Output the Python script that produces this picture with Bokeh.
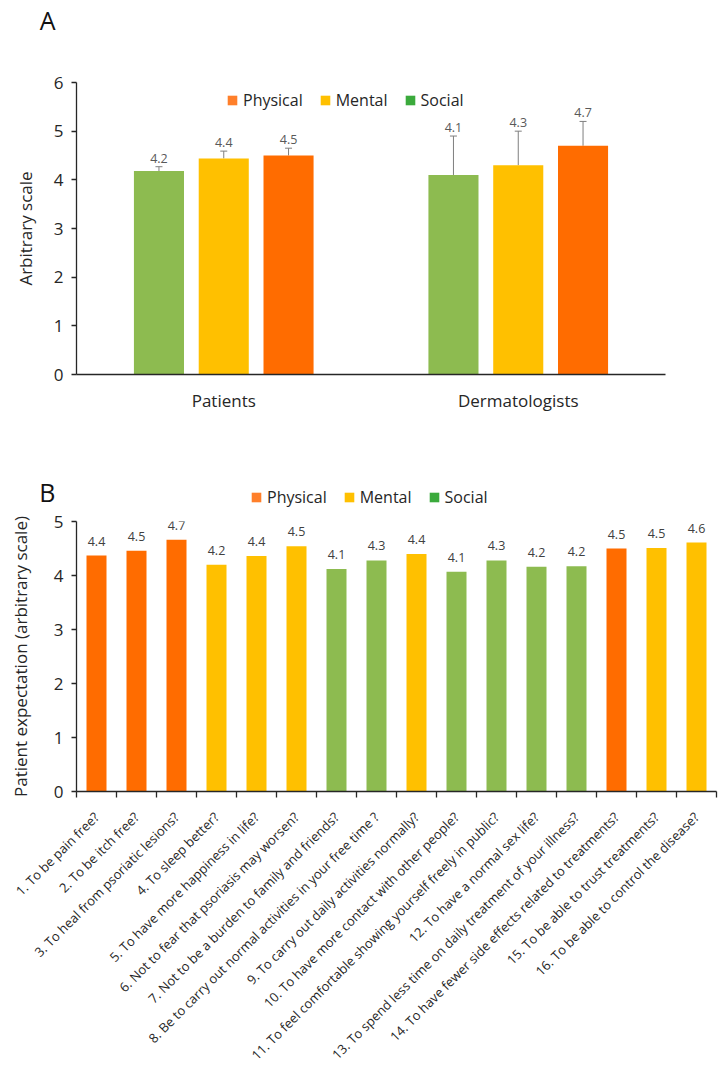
import math
from bokeh.plotting import figure
from bokeh.models import (ColumnDataSource, FactorRange, Range1d, Whisker, TeeHead,
                          LabelSet, Legend, FixedTicker, SingleIntervalTicker)
from bokeh.transform import dodge
from bokeh.layouts import column
from bokeh.embed import file_html
from bokeh.resources import INLINE
from bokeh.core.properties import value

FONT = "Open Sans"
ORANGE = "#FF6C00"
YELLOW = "#FFC000"
GREEN = "#8DBB50"
LEG_ORANGE = "#FF7F2A"
LEG_YELLOW = "#FFC000"
LEG_GREEN = "#3BAA3C"
AXIS = "#262626"

# ---------------- Panel A data ----------------
groups = ["Patients", "Dermatologists"]
social_a = [4.18, 4.10]
social_a_hi = [4.27, 4.90]
mental_a = [4.44, 4.30]
mental_a_hi = [4.59, 5.00]
physical_a = [4.50, 4.70]
physical_a_hi = [4.65, 5.20]

# ---------------- Panel B data ----------------
questions = [
    "1. To be pain free?",
    "2. To be itch free?",
    "3. To heal from psoriatic lesions?",
    "4. To sleep better?",
    "5. To have more happiness in life?",
    "6. Not to fear that psoriasis may worsen?",
    "7. Not to be a burden to family and friends?",
    "8. Be to carry out normal activities in your free time ?",
    "9. To carry out daily activities normally?",
    "10. To have more contact with other people?",
    "11. To feel comfortable showing yourself freely in public?",
    "12. To have a normal sex life?",
    "13. To spend less time on daily treatment of your illness?",
    "14. To have fewer side effects related to treatments?",
    "15. To be able to trust treatments?",
    "16. To be able to control the disease?",
]
b_values = [4.37, 4.46, 4.66, 4.20, 4.36, 4.54, 4.12, 4.28, 4.40, 4.07, 4.28, 4.16, 4.17, 4.50, 4.51, 4.61]
b_domain = ["Physical", "Physical", "Physical", "Mental", "Mental", "Mental", "Social", "Social",
            "Mental", "Social", "Social", "Social", "Social", "Physical", "Mental", "Mental"]

domain_color = {"Physical": ORANGE, "Mental": YELLOW, "Social": GREEN}
legend_color = {"Physical": LEG_ORANGE, "Mental": LEG_YELLOW, "Social": LEG_GREEN}


def style_y(ax, label, label_standoff):
    ax.axis_label = label
    ax.axis_label_text_font = FONT
    ax.axis_label_text_font_size = "17px"
    ax.axis_label_text_font_style = "normal"
    ax.axis_label_text_color = AXIS
    ax.axis_label_standoff = label_standoff
    ax.major_label_text_font = FONT
    ax.major_label_text_font_size = "17px"
    ax.major_label_text_color = AXIS
    ax.major_label_standoff = 8
    ax.axis_line_color = AXIS
    ax.axis_line_width = 1.3
    ax.major_tick_line_color = AXIS
    ax.major_tick_line_width = 1.3
    ax.major_tick_out = 5
    ax.major_tick_in = 0
    ax.minor_tick_line_color = None


def make_legend(p, x0):
    items = []
    for name in ["Physical", "Mental", "Social"]:
        # zero-height bar: invisible, only gives the legend swatch its colour
        r = p.vbar(x=[x0], top=[0], bottom=[0], width=0.01, fill_color=legend_color[name],
                   line_color=None)
        items.append((name, [r]))
    return Legend(items=items, orientation="horizontal",
                  border_line_color=None, background_fill_alpha=0, padding=0, spacing=16,
                  glyph_width=12, glyph_height=12, label_standoff=5, label_height=20,
                  label_text_font=FONT, label_text_font_size="16px", label_text_color=AXIS)


def header(height, letter, letter_y):
    """Strip above a panel; its left axis carries the panel letter as its only tick label."""
    h = figure(width=711, height=height, x_range=Range1d(0, 1), y_range=Range1d(0, 1),
               output_backend="svg", toolbar_location=None, min_border=0,
               x_axis_location=None, y_axis_location="left")
    h.outline_line_color = None
    h.grid.grid_line_color = None
    ax = h.yaxis[0]
    ax.ticker = FixedTicker(ticks=[letter_y])
    ax.major_label_overrides = {letter_y: letter}
    ax.axis_line_color = None
    ax.major_tick_line_color = None
    ax.minor_tick_line_color = None
    ax.major_tick_out = 0
    ax.major_tick_in = 0
    ax.major_label_standoff = 21
    ax.major_label_text_font = FONT
    ax.major_label_text_font_size = "25px"
    ax.major_label_text_color = "#111111"
    return h


# ---------------- Header A ----------------
hA = header(60, "A", 0.667)
hA.vbar(x=[0], top=[0], bottom=[0], width=0.01, line_color=None, fill_alpha=0)

# ---------------- Panel A ----------------
pA = figure(x_range=FactorRange(factors=groups, range_padding=0), y_range=Range1d(0, 6),
            frame_width=589, frame_height=292, output_backend="svg", toolbar_location=None,
            min_border_left=76, min_border_right=46, min_border_top=22, min_border_bottom=74)
pA.outline_line_color = None
pA.grid.grid_line_color = None
pA.yaxis.ticker = SingleIntervalTicker(interval=1)
style_y(pA.yaxis[0], "Arbitrary scale", 14)
xa = pA.xaxis[0]
xa.major_tick_out = 0
xa.major_tick_in = 0
xa.axis_line_color = AXIS
xa.axis_line_width = 1.3
xa.major_label_text_font = FONT
xa.major_label_text_font_size = "17px"
xa.major_label_text_color = AXIS
xa.major_label_standoff = 14

series_a = [
    ("Social", social_a, social_a_hi, GREEN, -0.22),
    ("Mental", mental_a, mental_a_hi, YELLOW, 0.0),
    ("Physical", physical_a, physical_a_hi, ORANGE, 0.22),
]
for name, vals, his, col, off in series_a:
    src = ColumnDataSource(dict(g=groups, v=vals, hi=his, lab=[f"{v:.1f}" for v in vals]))
    pA.vbar(x=dodge("g", off, range=pA.x_range), top="v", width=0.17, fill_color=col,
            line_color=None, source=src)
    pA.add_layout(Whisker(base=dodge("g", off, range=pA.x_range), lower="v", upper="hi",
                          source=src, line_color="#7F7F7F", line_width=1,
                          upper_head=TeeHead(size=7, line_color="#7F7F7F", line_width=1),
                          lower_head=None))
    pA.add_layout(LabelSet(x=dodge("g", off, range=pA.x_range), y="hi", text="lab", source=src,
                           y_offset=4, text_align="center", text_baseline="bottom",
                           text_font=value(FONT), text_font_size="12.5px", text_color="#595959"))

legA = make_legend(pA, groups[0])
legA.location = (150, 263)
pA.add_layout(legA)

# ---------------- Header B (letter + legend) ----------------
hB = header(61, "B", 0.279)
legB = make_legend(hB, 0)
legB.location = (174, 1)
hB.add_layout(legB)

# ---------------- Panel B ----------------
xs = [i + 0.5 for i in range(len(questions))]
pB = figure(x_range=Range1d(0, len(questions)), y_range=Range1d(0, 5),
            frame_width=640, frame_height=270, output_backend="svg", toolbar_location=None,
            min_border_left=76, min_border_right=6, min_border_top=12, min_border_bottom=271)
pB.outline_line_color = None
pB.grid.grid_line_color = None
pB.yaxis.ticker = SingleIntervalTicker(interval=1)
style_y(pB.yaxis[0], "Patient expectation (arbitrary scale)", 19)
xb = pB.xaxis[0]
xb.ticker = FixedTicker(ticks=xs, minor_ticks=list(range(len(questions) + 1)))
xb.major_label_overrides = {x: q for x, q in zip(xs, questions)}
xb.major_tick_out = 0
xb.major_tick_in = 0
xb.minor_tick_out = 6
xb.minor_tick_in = 0
xb.minor_tick_line_color = AXIS
xb.minor_tick_line_width = 1.3
xb.axis_line_color = AXIS
xb.axis_line_width = 1.3
xb.major_label_orientation = math.pi / 4
xb.major_label_text_font = FONT
xb.major_label_text_font_size = "13px"
xb.major_label_text_color = AXIS
xb.major_label_standoff = 17

srcB = ColumnDataSource(dict(x=xs, v=b_values, c=[domain_color[d] for d in b_domain],
                             lab=[f"{v:.1f}" for v in b_values]))
pB.vbar(x="x", top="v", width=0.5, fill_color="c", line_color=None, source=srcB)
pB.add_layout(LabelSet(x="x", y="v", text="lab", source=srcB, y_offset=10, text_align="center",
                       text_baseline="bottom", text_font=value(FONT), text_font_size="12.5px",
                       text_color="#404040"))

layout = column(hA, pA, hB, pB, spacing=0)
open("out.html", "w").write(file_html(layout, INLINE))
